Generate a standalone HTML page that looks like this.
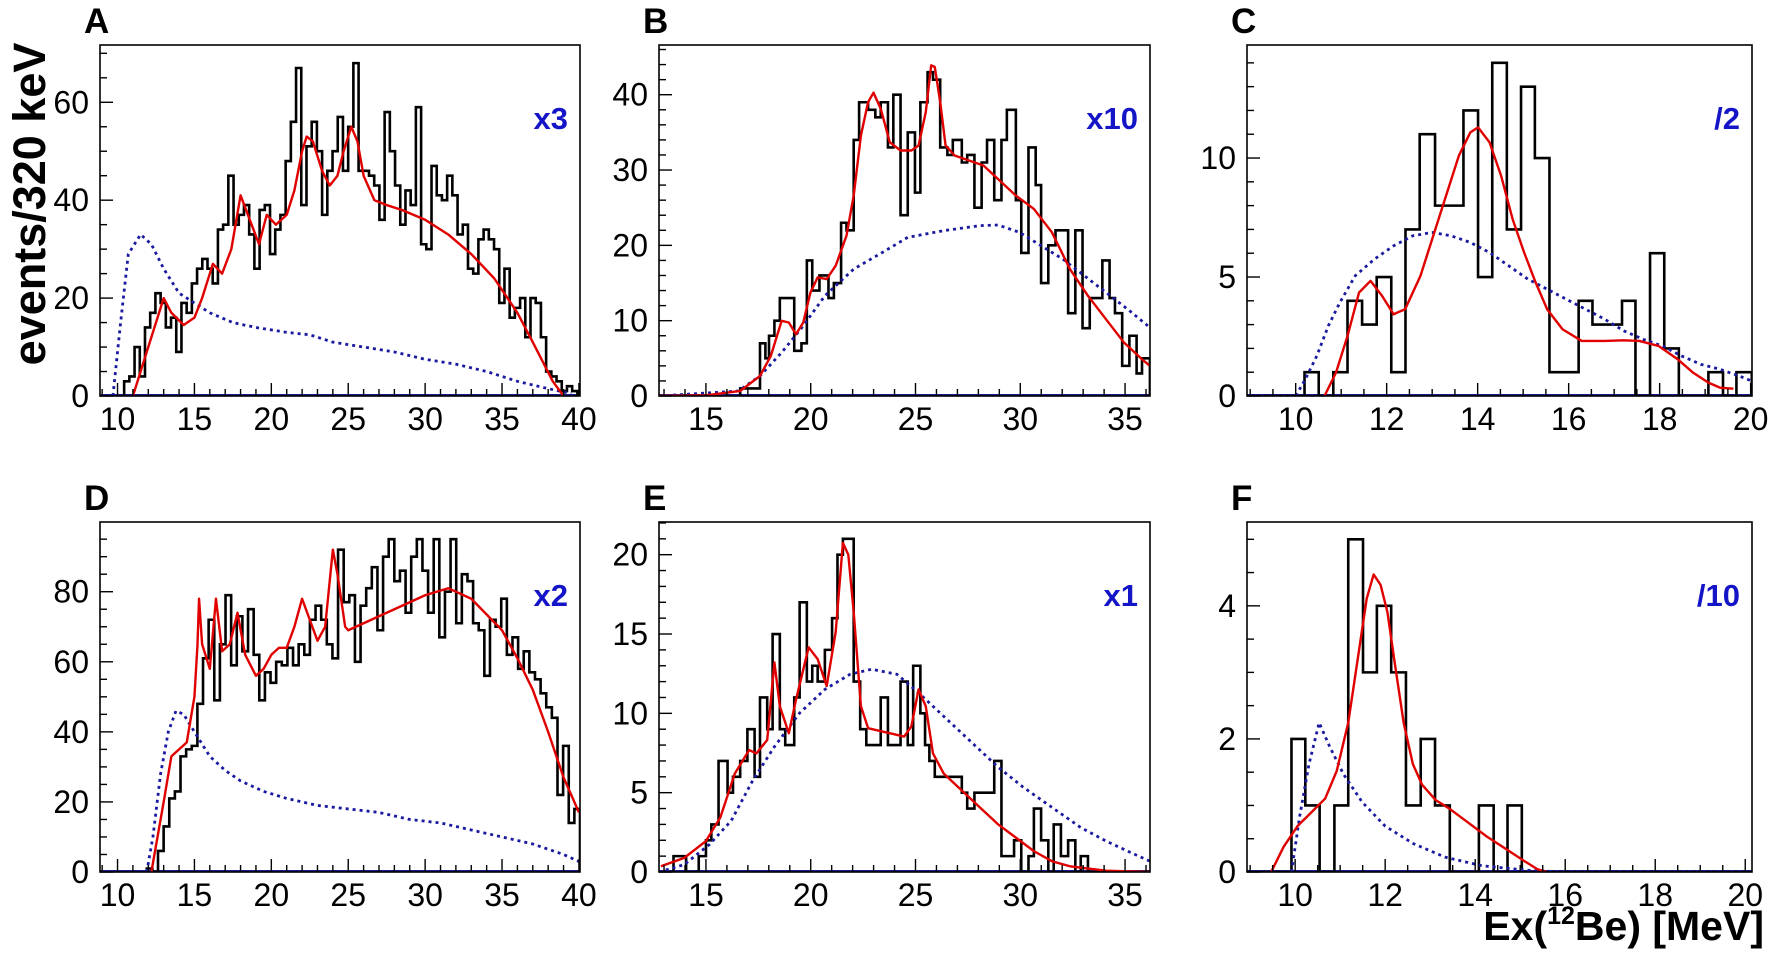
<!DOCTYPE html>
<html><head><meta charset="utf-8">
<style>
html,body{margin:0;padding:0;background:#fff;}
svg{display:block;}
text{font-family:"Liberation Sans",Arial,sans-serif;}
</style></head>
<body>
<svg id="s" width="1772" height="955" viewBox="0 0 1772 955" xmlns="http://www.w3.org/2000/svg">
<rect width="1772" height="955" fill="#fff"/>
<text transform="translate(45,204) rotate(-90)" text-anchor="middle" font-size="45" font-weight="bold">events/320 keV</text>
<text x="1764" y="940" text-anchor="end" font-size="41" font-weight="bold">Ex(<tspan font-size="25" dy="-16">12</tspan><tspan dy="16">Be) [MeV]</tspan></text>
</svg>
<script>
const S=document.getElementById('s');const NS='http://www.w3.org/2000/svg';
function el(t,a,txt){const e=document.createElementNS(NS,t);for(const k in a)e.setAttribute(k,a[k]);if(txt!==undefined)e.textContent=txt;S.appendChild(e);return e;}
const P=[
{L:'A',sc:'x3',fx:[100,580],fy:[45,396],xr:[8.86,40.07],yr:[0,71.7],xm:5,xn:1,ym:20,yn:5,
 cx:p=>(p-277)/42+10,cy:p=>(1180-p)/14.67},
{L:'B',sc:'x10',fx:[659,1150],fy:[45,396],xr:[12.76,36.19],yr:[0,46.6],xm:5,xn:1,ym:10,yn:2,
 cx:p=>(p-290)/58.15+15,cy:p=>(1180-p)/22.55},
{L:'C',sc:'/2',fx:[1247,1752],fy:[45,396],xr:[8.93,20.03],yr:[0,14.75],xm:2,xn:0.5,ym:5,yn:1,
 cx:p=>(p-345)/118.5+10,cy:p=>(1180-p)/71.3},
{L:'D',sc:'x2',fx:[100,580],fy:[522,872],xr:[8.86,40.07],yr:[0,99.9],xm:5,xn:1,ym:20,yn:5,
 cx:p=>(p-277)/42+10,cy:p=>(1192-p)/10.4},
{L:'E',sc:'x1',fx:[659,1150],fy:[522,872],xr:[12.76,36.19],yr:[0,22.06],xm:5,xn:1,ym:5,yn:1,
 cx:p=>(p-290)/58.15+15,cy:p=>(1192-p)/47.1},
{L:'F',sc:'/10',fx:[1247,1752],fy:[522,872],xr:[8.93,20.15],yr:[0,5.26],xm:2,xn:0.5,ym:2,yn:0.5,
 cx:p=>(p-545)/97.5+10,cy:p=>(1313-p)/193}
];
const HA={x0:10.43,x1:39.9,v:[3,4,10,4,14,17,21,19,14,16,9,19,17,23,26,28,26,23,34,35,45,35,37,39,33,26,38,39,29,34,37,48,56,67,39,51,56,50,37,46,50,57,46,55,68,46,46,45,43,36,58,50,43,35,42,39,59,31,30,47,41,40,45,41,33,35,26,25,32,34,32,30,19,26,16,18,20,12,20,19,12,5,4,3,1,2,1]};
const HD={x0:11.9,x1:40.07,v:[1,0,6,13,21,23,33,35,36,48,61,72,49,65,79,59,73,63,75,62,49,57,54,60,59,64,59,65,62,72,76,72,65,61,92,77,79,60,76,81,87,69,90,95,83,86,74,90,95,86,74,95,67,80,95,71,85,83,71,69,56,72,70,78,62,67,58,63,57,55,51,47,44,22,36,14,18]};
const HB={e:[385,413,440,455,465,480,495,510,535,555,570,585,605,630,645,665,680,700,715,740,760,775,795,810,830,850,870,885,905,920,940,960,975,1000,1015,1035,1055,1070,1090,1110,1125,1150,1165,1185,1205,1220,1240,1260,1280,1295,1315,1335,1355,1375,1390,1410,1425,1445,1465,1485,1500,1522],
v:[1,1,7,5,8,10,13,13,6,7,18,14,16,13,15,23,22,34,39,38,37,39,33,40,24,35,27,39,43,42,33,32,34,31,32,25,31,34,26,34,38,26,19,33,28,15,20,22,22,11,22,9,13,13,18,13,11,4,8,3,5]};
const HE={e:[160,200,235,270,290,305,325,350,365,385,405,425,440,460,475,495,510,535,550,570,585,600,620,640,655,670,685,700,718,735,775,795,830,850,865,885,898,910,925,945,1000,1015,1035,1090,1110,1145,1165,1185,1200,1220,1240,1255,1275,1295,1315,1330,1350,1522],
v:[0,1,0,1,2,3,7,5,6,7,9,6,11,9,15,9,8,11,17,12,13,12,14,16,20,21,21,12,9,8,11,8,12,8,13,10,8,7,6,6,5,4,5,7,1,2,0,1,4,2,0,3,1,2,0,1,0]};
const HC={e:[218,368,405,443,480,518,556,594,631,668,708,782,820,857,895,932,968,1006,1082,1118,1195,1230,1268,1305,1343,1420,1458,1493,1533],
v:[0,1,0,1,4,3,5,1,7,11,8,12,5,14,7,13,10,1,4,3,4,0,6,2,0,1,0,1]};
const HF={e:[441,537,567,598,630,660,692,722,753,785,817,848,880,943,975,1005,1036,1535],v:[0,2,1,0,1,5,3,4,3,1,2,1,0,1,0,1,0]};
const RA=[[11,0],[12,10],[13,20],[13.5,17],[14.3,14.5],[15,16],[15.5,20],[16.2,27],[16.8,25],[17.4,30],[18,41],[18.6,36],[19.2,31],[19.7,37],[20.3,35],[21,37],[21.5,42],[22,50],[22.3,53],[22.7,52],[23.3,46],[23.8,43],[24.3,45],[24.7,50],[25.2,55],[25.6,52],[26,45],[26.7,40],[27.5,39],[28.5,38],[30,36],[31.5,33],[33,29],[34.5,24],[36,17],[37,11],[38.3,3],[39,0]];
const BA=[[9.7,0],[10.2,15],[10.7,29],[11.5,33],[12.2,31],[13,26],[14,21],[15,19],[16,17],[17.5,15],[19,14],[21,13],[22.5,12.5],[24,11],[26,10],[28,9],[30,7.5],[32,6.5],[34,5],[36,3],[38,1.5],[39.5,0.5]];
const RD=[[12.2,0],[13,20],[13.5,33],[14.5,37],[15,50],[15.2,65],[15.3,78],[15.5,65],[16,58],[16.4,78],[16.8,63],[17.3,65],[17.8,74],[18.3,62],[19,56],[19.5,58],[20,62],[20.5,64],[21,64],[21.5,70],[22,78],[22.5,72],[23,66],[23.5,70],[24,92],[24.3,85],[24.8,70],[25,69],[26,71],[28,75],[30,79],[31.5,81],[33,78],[35,69],[36,61],[37,52],[38,40],[39,27],[40,17]];
const BD=[[11.9,0],[12.3,10],[12.8,28],[13.3,40],[13.8,46],[14.3,45],[15,40],[16,33],[17,29],[18,26],[19.5,23],[21,21],[23,19],[25,18],[27,17],[29,15],[31,14],[33,12],[35,10],[37,8],[39,5],[40,3]];
const RB=[[160,1180],[290,1178],[385,1165],[440,1120],[470,1060],[500,955],[520,960],[540,995],[560,960],[580,870],[600,825],[625,830],[650,790],[680,700],[700,580],[720,400],[740,300],[755,272],[775,320],[800,420],[830,445],[860,445],[880,430],[900,330],[915,190],[925,195],[940,300],[955,430],[980,460],[1020,475],[1060,490],[1100,530],[1150,580],[1200,620],[1250,690],[1300,800],[1350,880],[1400,950],[1450,1020],[1500,1070],[1522,1090]];
const BB=[[160,1180],[380,1165],[440,1120],[500,1050],[560,970],[620,880],[700,800],[780,750],[850,705],[950,685],[1050,670],[1100,668],[1160,690],[1220,730],[1280,770],[1340,820],[1400,870],[1460,920],[1522,975]];
const RE=[[165,1175],[230,1150],[290,1100],[330,1030],[370,900],[410,830],[430,840],[460,800],[480,570],[495,700],[520,780],[540,680],[575,525],[600,560],[625,640],[650,480],[670,215],[685,250],[700,420],[720,700],[740,765],[780,775],[840,790],[860,760],[880,650],[900,700],[920,840],[950,900],[1000,950],[1050,1000],[1100,1050],[1150,1090],[1200,1130],[1250,1160],[1300,1175],[1400,1188],[1522,1192]];
const BE=[[160,1192],[230,1170],[300,1110],[360,1040],[420,920],[480,820],[550,720],[620,650],[690,605],[750,590],[820,605],[880,660],[950,730],[1020,800],[1100,880],[1170,940],[1250,1000],[1330,1060],[1400,1100],[1460,1130],[1522,1160]];
const RC=[[420,1180],[450,1110],[480,1000],[510,870],[540,835],[570,880],[600,935],[630,920],[670,820],[720,640],[770,460],[800,390],[820,375],[850,420],[880,520],[910,650],[940,750],[970,840],[1000,920],[1040,980],[1090,1015],[1150,1015],[1200,1013],[1240,1015],[1290,1030],[1340,1070],[1380,1110],[1420,1140],[1450,1155],[1485,1158]];
const BC=[[218,1180],[345,1180],[370,1130],[400,1060],[430,970],[460,900],[500,820],[550,770],[600,730],[650,700],[700,690],[750,700],[800,720],[850,750],[900,790],[950,830],[1000,860],[1050,890],[1100,920],[1150,950],[1200,985],[1250,1010],[1300,1030],[1350,1060],[1400,1085],[1450,1100],[1500,1120],[1533,1135]];
const RF=[[493,1313],[520,1240],[550,1180],[580,1140],[610,1100],[635,1020],[660,880],[680,700],[700,520],[715,450],[730,480],[745,560],[760,700],[780,880],[800,1000],[820,1060],[850,1105],[880,1130],[920,1170],[960,1210],[1000,1245],[1040,1280],[1070,1305],[1090,1313]];
const BF=[[537,1313],[555,1150],[575,1000],[597,880],[620,950],[650,1030],[690,1110],[740,1180],[800,1230],[870,1270],[950,1295],[1050,1308],[1130,1313],[1535,1313]];

function fmt(v){return Math.abs(v-Math.round(v))<1e-6?String(Math.round(v)):String(v);}
P.forEach((p,i)=>{
 const X=x=>p.fx[0]+(x-p.xr[0])/(p.xr[1]-p.xr[0])*(p.fx[1]-p.fx[0]);
 const Y=y=>p.fy[1]-(y-p.yr[0])/(p.yr[1]-p.yr[0])*(p.fy[1]-p.fy[0]);
 const clipId='c'+i;
 const cp=el('clipPath',{id:clipId});
 const r=document.createElementNS(NS,'rect');r.setAttribute('x',p.fx[0]);r.setAttribute('y',p.fy[0]);r.setAttribute('width',p.fx[1]-p.fx[0]);r.setAttribute('height',p.fy[1]-p.fy[0]);cp.appendChild(r);
 el('line',{x1:p.fx[0],x2:p.fx[1],y1:p.fy[1]-1,y2:p.fy[1]-1,stroke:'#1a1a90','stroke-width':2});
 let d='';
 if(i==0||i==3){const H=i==0?HA:HD;const n=H.v.length,w=(H.x1-H.x0)/n;
   d='M'+X(H.x0)+','+Y(0);for(let k=0;k<n;k++){const a=X(H.x0+k*w),b=X(H.x0+(k+1)*w),y=Y(H.v[k]);d+='L'+a+','+y+'L'+b+','+y;}d+='L'+X(H.x1)+','+Y(0);}
 else{const H=[null,HB,HC,null,HE,HF][i];d='M'+X(p.cx(H.e[0]))+','+Y(0);
   for(let k=0;k<H.v.length;k++){const a=X(p.cx(H.e[k])),b=X(p.cx(H.e[k+1])),y=Y(H.v[k]);d+='L'+a+','+y+'L'+b+','+y;}
   d+='L'+X(p.cx(H.e[H.e.length-1]))+','+Y(0);}
 el('path',{d:d,fill:'none',stroke:'#000','stroke-width':2.6,'clip-path':'url(#'+clipId+')'});
 const curve=(pts,data)=>pts.map(q=>data?[X(q[0]),Y(q[1])]:[X(p.cx(q[0])),Y(p.cy(q[1]))]);
 const sets=[[BA,RA,true],[BB,RB,false],[BC,RC,false],[BD,RD,true],[BE,RE,false],[BF,RF,false]][i];
 const bl=curve(sets[0],sets[2]),rd=curve(sets[1],sets[2]);
 el('polyline',{points:bl.map(q=>q.join(',')).join(' '),fill:'none',stroke:'#1a1aa0','stroke-width':2.8,'stroke-dasharray':'3,4','clip-path':'url(#'+clipId+')'});
 el('polyline',{points:rd.map(q=>q.join(',')).join(' '),fill:'none',stroke:'#e00000','stroke-width':2.4,'stroke-linejoin':'round','clip-path':'url(#'+clipId+')'});
 el('rect',{x:p.fx[0],y:p.fy[0],width:p.fx[1]-p.fx[0],height:p.fy[1]-p.fy[0],fill:'none',stroke:'#000','stroke-width':1.6});
 for(let v=Math.ceil(p.xr[0]/p.xn)*p.xn;v<=p.xr[1]+1e-9;v+=p.xn){const x=X(v);const maj=Math.abs(v/p.xm-Math.round(v/p.xm))<1e-6;
   el('line',{x1:x,x2:x,y1:p.fy[1],y2:p.fy[1]-(maj?13:7),stroke:'#000','stroke-width':1.4});
   if(maj)el('text',{x:x,y:p.fy[1]+34,'text-anchor':'middle','font-size':32},fmt(v));}
 for(let v=0;v<=p.yr[1]+1e-9;v+=p.yn){const y=Y(v);const maj=Math.abs(v/p.ym-Math.round(v/p.ym))<1e-6;
   el('line',{x1:p.fx[0],x2:p.fx[0]+(maj?13:7),y1:y,y2:y,stroke:'#000','stroke-width':1.4});
   if(maj)el('text',{x:p.fx[0]-11,y:y+11,'text-anchor':'end','font-size':32},fmt(v));}
 el('text',{x:p.fx[0]-16,y:p.fy[0]-12,'font-size':35,'font-weight':'bold'},p.L);
 el('text',{x:p.fx[1]-12,y:p.fy[0]+84,'text-anchor':'end','font-size':31,'font-weight':'bold',fill:'#1515c8'},p.sc);
});
</script>
</body></html>
